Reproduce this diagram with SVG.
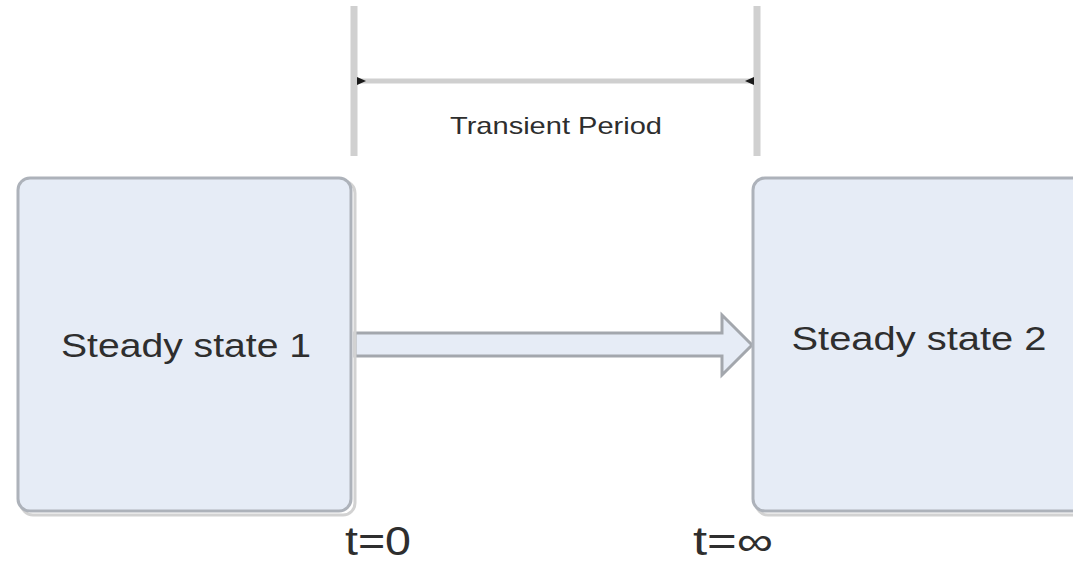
<svg xmlns="http://www.w3.org/2000/svg" width="1073" height="563" viewBox="0 0 1073 563">
  <defs>
    <style>
      .state { fill: #e6ecf6; stroke: #adb2ba; stroke-width: 3; }
      .shadow { fill: none; stroke: #d2d2d2; stroke-width: 3; }
      .label { font-family: "Liberation Sans", Arial, sans-serif; fill: #2e2e2e; }
      .guide { stroke: #d0d0d0; stroke-width: 7; fill: none; }
      .dim { stroke: #cfcfcf; stroke-width: 5; fill: none; }
      .tick { fill: #1a1a1a; }
    </style>
  </defs>
  <rect width="1073" height="563" fill="#ffffff"/>

  <!-- extension lines, period dimension and state transition arrow -->
  <g id="connectors">
    <line class="guide" x1="354" y1="6" x2="354" y2="156"/>
    <line class="guide" x1="757" y1="6" x2="757" y2="156"/>
    <line class="dim" x1="358" y1="81" x2="753" y2="81"/>
    <path class="tick" d="M357,77 L366,81 L357,85 Z"/>
    <path class="tick" d="M754,77 L745,81 L754,85 Z"/>
    <!-- hollow block arrow between states -->
    <path d="M355,333 L722,333 L722,315 L752,345 L722,375 L722,356 L355,356 Z" fill="#e6ecf6" stroke="#a3a7ad" stroke-width="3" stroke-linejoin="miter"/>
  </g>

  <text id="period-label" class="label" x="556" y="134" font-size="24" text-anchor="middle" textLength="212" lengthAdjust="spacingAndGlyphs" fill="#444">Transient Period</text>

  <g id="state1">
    <rect class="shadow" x="21" y="181" width="334" height="334" rx="12"/>
    <rect class="state" x="18" y="178" width="333" height="333" rx="12"/>
    <text class="label" x="186" y="357" font-size="34" text-anchor="middle" textLength="250" lengthAdjust="spacingAndGlyphs">Steady state 1</text>
  </g>

  <g id="state2">
    <rect class="shadow" x="756" y="181" width="340" height="334" rx="12"/>
    <rect class="state" x="753" y="178" width="340" height="333" rx="12"/>
    <text class="label" x="919" y="350" font-size="34" text-anchor="middle" textLength="255" lengthAdjust="spacingAndGlyphs">Steady state 2</text>
  </g>

  <text id="t-start" class="label" x="345" y="555" font-size="40" textLength="66" lengthAdjust="spacingAndGlyphs">t=0</text>
  <text id="t-end" class="label" x="693" y="555" font-size="40" textLength="80" lengthAdjust="spacingAndGlyphs">t=∞</text>
</svg>
